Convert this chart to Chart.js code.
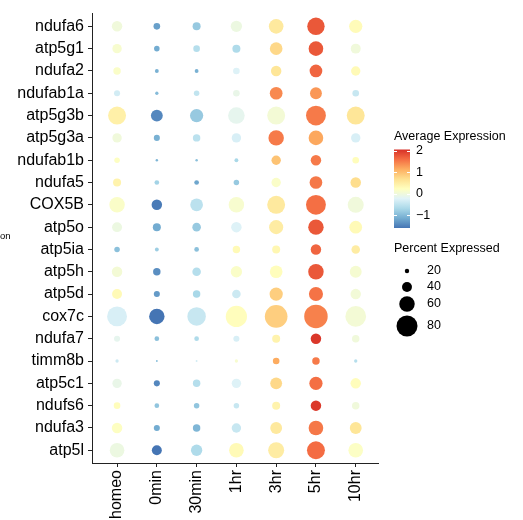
<!DOCTYPE html>
<html>
<head>
<meta charset="utf-8">
<script src="https://cdn.jsdelivr.net/npm/chart.js@4/dist/chart.umd.min.js"></script>
<style>
  html, body { margin: 0; padding: 0; background: #fff; }
  #wrap { width: 523px; height: 520px; position: relative; }
</style>
</head>
<body>
<div id="wrap"><canvas id="c" width="523" height="520"></canvas></div>
<script>
// Genes (rows, top to bottom) and time points (columns)
const genes = ['ndufa6','atp5g1','ndufa2','ndufab1a','atp5g3b','atp5g3a','ndufab1b','ndufa5','COX5B','atp5o',
               'atp5ia','atp5h','atp5d','cox7c','ndufa7','timm8b','atp5c1','ndufs6','ndufa3','atp5l'];
const timepoints = ['homeo','0min','30min','1hr','3hr','5hr','10hr'];

// Scaled average expression per time point (one value per gene)
const avgHomeo = [0.0, 0.1, 0.15, -0.35, 0.45, 0.0, 0.2, 0.4, 0.15, -0.05, -0.95, 0.05, 0.3, -0.3, -0.15, -0.4, -0.1, 0.25, 0.2, -0.05];
const avg0min  = [-1.25, -1.15, -1.1, -1.0, -1.45, -1.1, -1.05, -0.75, -1.55, -1.15, -0.8, -1.4, -1.3, -1.6, -0.95, -0.95, -1.45, -0.9, -1.15, -1.6];
const avg30min = [-0.85, -0.6, -1.1, -0.5, -0.85, -0.55, -0.95, -1.2, -0.55, -0.85, -0.95, -0.6, -0.7, -0.45, -0.65, -0.35, -0.6, -0.9, -1.05, -0.65];
const avg1hr   = [-0.05, -0.65, -0.25, -0.1, -0.15, -0.3, -0.7, -0.85, 0.1, -0.25, 0.3, 0.15, -0.4, 0.25, -0.3, 0.1, -0.25, -0.45, -0.45, 0.3];
const avg3hr   = [0.55, 0.75, 0.6, 1.4, 0.05, 1.5, 0.95, 0.15, 0.55, 0.5, 0.35, 0.25, 0.85, 0.85, 0.4, 1.15, 0.75, 0.4, 0.55, 0.5];
const avg5hr   = [1.75, 1.75, 1.65, 1.3, 1.5, 1.18, 1.5, 1.52, 1.58, 1.75, 1.65, 1.75, 1.55, 1.45, 2.0, 1.5, 1.58, 1.98, 1.52, 1.6];
const avg10hr  = [0.28, 0.0, 0.3, -0.45, 0.6, -0.3, 0.25, 0.7, 0.0, 0.3, 0.5, 0.08, 0.03, 0.05, 0.0, -0.6, 0.25, 0.0, 0.6, 0.18];

// Percent of cells expressing each gene per time point
const pctHomeo = [42, 38, 31, 26, 69, 38, 24, 33, 60, 40, 24, 42, 40, 76, 26, 16, 38, 28, 42, 57];
const pct0min  = [28, 24, 18, 16, 47, 26, 13, 21, 42, 33, 18, 31, 26, 60, 21, 11, 26, 21, 26, 40];
const pct30min = [33, 28, 18, 24, 52, 31, 13, 21, 50, 35, 21, 35, 31, 71, 21, 11, 31, 24, 31, 45];
const pct1hr   = [45, 33, 28, 28, 64, 38, 18, 24, 60, 42, 31, 45, 35, 81, 26, 16, 38, 24, 38, 57];
const pct3hr   = [57, 50, 42, 50, 69, 60, 38, 38, 69, 55, 33, 50, 52, 86, 33, 28, 47, 33, 47, 62];
const pct5hr   = [67, 57, 50, 47, 76, 57, 42, 50, 76, 60, 42, 60, 55, 89, 42, 31, 52, 42, 57, 69];
const pct10hr  = [52, 40, 38, 28, 69, 38, 28, 42, 62, 50, 35, 47, 42, 79, 31, 16, 42, 31, 47, 57];

// Legend values
const colorTicks = [2, 1, 0, -1];
const sizeTicks = [20, 40, 60, 80];

const avgCols = [avgHomeo, avg0min, avg30min, avg1hr, avg3hr, avg5hr, avg10hr];
const pctCols = [pctHomeo, pct0min, pct30min, pct1hr, pct3hr, pct5hr, pct10hr];

// Colour scale: reversed RdYlBu (9 classes) spread over the expression range
const palette = ['#4575b4','#74add1','#abd9e9','#e0f3f8','#ffffbf','#fee090','#fdae61','#f46d43','#d73027'];
const expMin = -1.6, expMax = 2.05;
function hex2rgb(h) { return [1,3,5].map(i => parseInt(h.substr(i, 2), 16)); }
const palRGB = palette.map(hex2rgb);
function colorFor(v) {
  let t = (v - expMin) / (expMax - expMin);
  t = Math.max(0, Math.min(1, t));
  const p = t * (palRGB.length - 1);
  const i = Math.min(Math.floor(p), palRGB.length - 2);
  const f = p - i;
  const a = palRGB[i], b = palRGB[i + 1];
  const c = a.map((x, k) => Math.round(x + (b[k] - x) * f));
  return `rgb(${c[0]},${c[1]},${c[2]})`;
}
// Dot radius grows linearly with percent expressed
function radiusFor(pct) { return Math.max(0.8, 0.138 * (pct - 4)); }

const points = [];
timepoints.forEach((tp, ci) => {
  genes.forEach((g, ri) => {
    points.push({ x: ci, y: ri, pct: pctCols[ci][ri], avg: avgCols[ci][ri] });
  });
});

const FONT = '"Liberation Sans", Arial, Helvetica, sans-serif';
const axisColor = '#222';

const legendPlugin = {
  id: 'dotLegend',
  afterDraw(chart) {
    const ctx = chart.ctx;
    ctx.save();
    ctx.fillStyle = '#000';
    ctx.textBaseline = 'middle';
    ctx.textAlign = 'left';

    // colour bar
    ctx.font = '12.5px ' + FONT;
    ctx.fillText('Average Expression', 394, 137);
    const bx = 394, bw = 16, by0 = 149.5, by1 = 228;
    const grad = ctx.createLinearGradient(0, by1, 0, by0);
    palette.forEach((c, i) => grad.addColorStop(i / (palette.length - 1), c));
    ctx.fillStyle = grad;
    ctx.fillRect(bx, by0, bw, by1 - by0);
    const yOf = v => by1 - (v - expMin) / (expMax - expMin) * (by1 - by0);
    ctx.strokeStyle = '#fff';
    ctx.lineWidth = 1;
    colorTicks.forEach(v => {
      const y = Math.round(yOf(v)) + 0.5;
      ctx.beginPath();
      ctx.moveTo(bx, y); ctx.lineTo(bx + 3, y);
      ctx.moveTo(bx + bw - 3, y); ctx.lineTo(bx + bw, y);
      ctx.stroke();
      ctx.fillStyle = '#000';
      ctx.font = '12.5px ' + FONT;
      ctx.fillText(v < 0 ? '\u2212' + Math.abs(v) : String(v), 416, yOf(v));
    });

    // size legend
    ctx.fillStyle = '#000';
    ctx.font = '12.5px ' + FONT;
    ctx.fillText('Percent Expressed', 394, 249);
    const sy = [271, 287, 304, 326];
    sizeTicks.forEach((p, i) => {
      ctx.beginPath();
      ctx.arc(407, sy[i], radiusFor(p), 0, Math.PI * 2);
      ctx.fillStyle = '#000';
      ctx.fill();
      ctx.fillText(String(p), 427, sy[i]);
    });

    // clipped label fragment on the left edge
    ctx.font = '9.5px ' + FONT;
    ctx.fillText('on', 0, 236);
    ctx.restore();
  }
};

new Chart(document.getElementById('c'), {
  type: 'bubble',
  data: {
    datasets: [{
      data: points,
      backgroundColor: ctx => colorFor(ctx.raw.avg),
      borderWidth: 0,
      radius: ctx => radiusFor(ctx.raw.pct),
      hoverRadius: 0
    }]
  },
  options: {
    responsive: false,
    animation: false,
    events: [],
    layout: { padding: { left: 0, right: 145, top: 5, bottom: 0 } },
    plugins: { legend: { display: false }, tooltip: { enabled: false } },
    scales: {
      x: {
        type: 'linear',
        min: -0.63, max: 6.56,
        afterBuildTicks: s => { s.ticks = timepoints.map((_, i) => ({ value: i })); },
        afterFit: s => { s.height = 57; },
        border: { display: true, color: axisColor, width: 1 },
        grid: { display: true, drawOnChartArea: false, drawTicks: true, tickLength: 4, tickColor: axisColor },
        ticks: {
          autoSkip: false, maxRotation: 90, minRotation: 90, padding: 3,
          color: '#000', font: { family: FONT, size: 16 },
          callback: v => timepoints[v]
        }
      },
      y: {
        type: 'linear',
        reverse: true,
        min: -0.57, max: 19.57,
        afterBuildTicks: s => { s.ticks = genes.map((_, i) => ({ value: i })); },
        afterFit: s => { s.width = 92; },
        border: { display: true, color: axisColor, width: 1 },
        grid: { display: true, drawOnChartArea: false, drawTicks: true, tickLength: 4, tickColor: axisColor },
        ticks: {
          autoSkip: false, padding: 4,
          color: '#000', font: { family: FONT, size: 16 },
          callback: v => genes[v]
        }
      }
    }
  },
  plugins: [legendPlugin]
});
</script>
</body>
</html>
